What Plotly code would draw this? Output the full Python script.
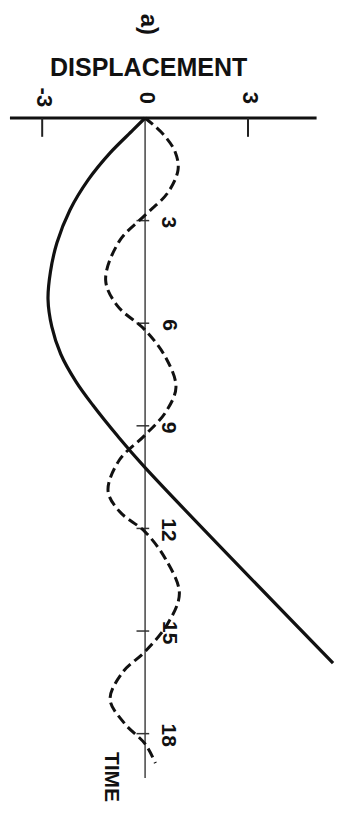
import plotly.graph_objects as go

# Data (displacement vs time, chart drawn rotated: time runs downward)
solid_t = [0, 0.35, 1.02, 1.81, 2.69, 3.65, 4.5, 5.3, 6.1, 6.9, 7.7, 8.4, 9.3, 10.2, 15.94]
solid_x = [0, -0.35, -1.02, -1.66, -2.19, -2.57, -2.76, -2.83, -2.72, -2.46, -2.02, -1.52, -0.8, -0.02, 5.48]

dash_t = [0, 0.5, 1.0, 1.52, 2.2, 2.84, 3.6, 4.74, 5.5, 6.2, 7.0, 7.87, 8.6, 9.27,
          10.0, 10.9, 11.5, 12.1, 12.9, 13.9, 14.8, 15.6, 16.2, 17.0, 17.7, 18.3, 18.86]
dash_x = [0, 0.55, 0.88, 0.96, 0.65, 0, -0.75, -1.15, -0.8, 0, 0.6, 0.9, 0.6, 0,
          -0.75, -1.08, -0.75, 0, 0.6, 1.0, 0.65, 0, -0.65, -1.02, -0.6, 0, 0.3]

disp_ticks = [-3, 0, 3]
disp_labels = ["-3", "0", "3"]
time_ticks = [3, 6, 9, 12, 15, 18]
time_labels = ["3", "6", "9", "12", "15", "18"]

fig = go.Figure()

# axes lines
fig.add_trace(go.Scatter(x=[-3.94, 5.0], y=[0, 0], mode="lines",
                         line=dict(color="#111", width=3), hoverinfo="skip"))
fig.add_trace(go.Scatter(x=[0, 0], y=[0, 19.3], mode="lines",
                         line=dict(color="#444", width=1.5), hoverinfo="skip"))

# displacement tick marks (downward)
for v in disp_ticks:
    if v != 0:
        fig.add_trace(go.Scatter(x=[v, v], y=[0, 0.55], mode="lines",
                                 line=dict(color="#222", width=2), hoverinfo="skip"))
# time tick marks
for v in time_ticks:
    fig.add_trace(go.Scatter(x=[-0.25, 0.12], y=[v, v], mode="lines",
                             line=dict(color="#333", width=1.5), hoverinfo="skip"))

# curves
fig.add_trace(go.Scatter(x=solid_x, y=solid_t, mode="lines",
                         line=dict(color="#111", width=3.2, shape="spline", smoothing=1.0),
                         hoverinfo="skip"))
fig.add_trace(go.Scatter(x=dash_x, y=dash_t, mode="lines",
                         line=dict(color="#111", width=3, shape="spline", smoothing=1.0,
                                   dash="10px,5px"),
                         hoverinfo="skip"))

font = "Liberation Sans"
ann = []
ann.append(dict(x=0.12, y=-2.75, text="<b>a)</b>", textangle=90, showarrow=False,
                font=dict(family=font, size=24, color="#111")))
ann.append(dict(x=0.09, y=-1.49, text="<b>DISPLACEMENT</b>", showarrow=False,
                font=dict(family=font, size=25, color="#111")))
for v, lab in zip(disp_ticks, disp_labels):
    ann.append(dict(x=v + 0.08, y=-0.6, text="<b>" + lab + "</b>", textangle=90,
                    showarrow=False, font=dict(family=font, size=22, color="#111")))
for v, lab in zip(time_ticks, time_labels):
    ann.append(dict(x=0.72, y=v + 0.05, text="<b>" + lab + "</b>", textangle=90,
                    showarrow=False, font=dict(family=font, size=21, color="#111")))
ann.append(dict(x=-0.93, y=19.27, text="<b>TIME</b>", textangle=90, showarrow=False,
                font=dict(family=font, size=21, color="#111")))

fig.update_layout(
    width=343, height=813,
    margin=dict(l=0, r=0, t=0, b=0),
    paper_bgcolor="white", plot_bgcolor="white",
    showlegend=False,
    xaxis=dict(range=[-4.23, 5.77], visible=False, fixedrange=True),
    yaxis=dict(range=[20.32, -3.45], visible=False, fixedrange=True),
    annotations=ann,
)

fig.write_html("out.html", config={"displayModeBar": False, "staticPlot": True},
               post_script="document.body.style.margin='0';document.body.style.overflow='hidden';")
